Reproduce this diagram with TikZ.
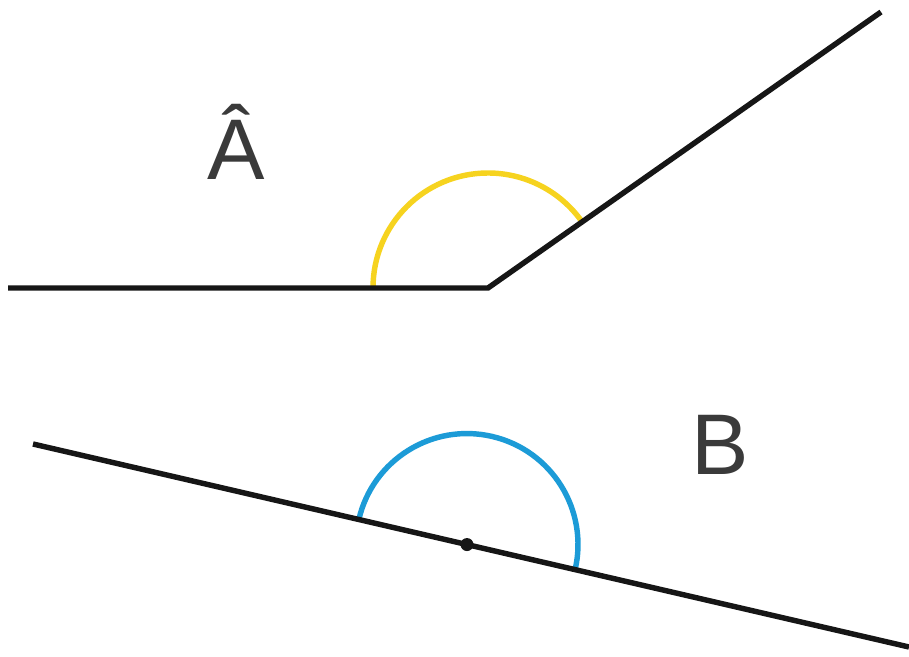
\documentclass[tikz,border=0pt]{standalone}
\usepackage{fontspec}
\setmainfont{Liberation Sans}
\usetikzlibrary{calc}
\definecolor{inkdark}{HTML}{161616}
\definecolor{labgrey}{HTML}{3A3A3A}
\definecolor{arcyellow}{HTML}{F6D31F}
\definecolor{arcblue}{HTML}{1C9BD7}
\tikzset{
  ang side/.style={draw=inkdark, line width=3.1pt, line join=miter},
  ang arc/.style={line width=3.1pt},
  ang lab/.style={font=\fontsize{49}{56}\selectfont, text=labgrey, anchor=base, inner sep=0pt},
}
\begin{document}
\begin{tikzpicture}[x=0.02cm, y=0.02cm]
  \useasboundingbox (0,0) rectangle (909,656);
  % angle A: straight side and ray meeting at the vertex
  \coordinate (aL) at (8,368);
  \coordinate (aV) at (488,368);
  \coordinate (aR) at (881,644);
  \draw[ang arc, draw=arcyellow] ($(aV)+(180:115)$) arc[start angle=180, end angle=35.1, radius=115];
  \draw[ang side] (aL) -- (aV) -- (aR);
  \node[ang lab] (labA) at (236,476) {Â};
  % angle B: a straight angle, one line with its vertex marked
  \coordinate (bL) at (33,212);
  \coordinate (bR) at (909,9);
  \coordinate (bV) at ($(bL)!0.4954!(bR)$);
  \draw[ang arc, draw=arcblue] ($(bV)+(166.95:111)$) arc[start angle=166.95, end angle=-13.05, radius=111];
  \draw[ang side] (bL) -- (bR);
  \fill[inkdark] (bV) circle[radius=6.5];
  \node[ang lab] (labB) at (720,181) {B};
\end{tikzpicture}
\end{document}
